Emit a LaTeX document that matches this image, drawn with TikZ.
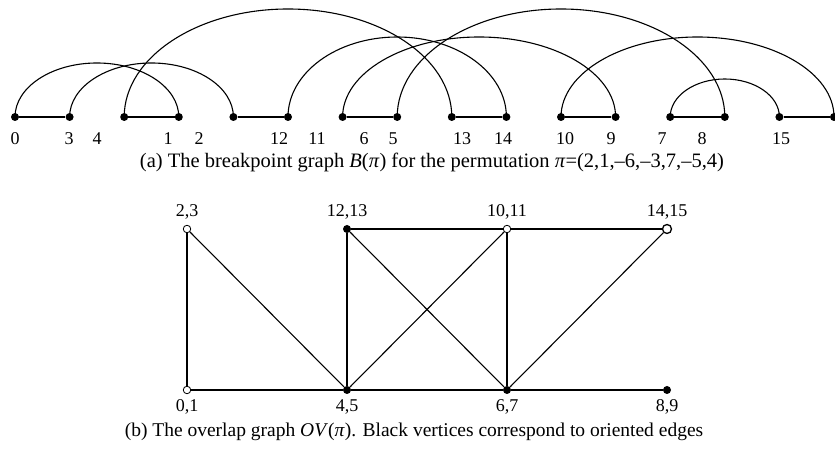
\documentclass[tikz,border=0pt]{standalone}
\usepackage{fontspec}
\setmainfont{Liberation Serif}
\usepackage{tikz}
\usetikzlibrary{calc}
% half-ellipse between two breakpoint vertices
\newcommand{\bparc}[3]{\draw[arcline] let \p1=(#1.center), \p2=(#2.center) in (\p1) arc[start angle=180, end angle=0, x radius={0.5*(\x2-\x1)}, y radius=#3pt];}

\begin{document}
\begin{tikzpicture}[
		x=1pt, y=1pt,
		dot/.style={circle, fill=black, inner sep=0pt, minimum size=8pt},
		hollow/.style={circle, draw, fill=white, inner sep=0pt, minimum size=7.5pt, line width=0.8pt},
		numlabel/.style={font=\fontsize{18}{20}\selectfont},
		pairlabel/.style={font=\fontsize{18}{20}\selectfont},
		caption/.style={font=\fontsize{20}{24}\selectfont},
		edge/.style={line width=1.1pt},
		arcline/.style={line width=1.1pt}
	]
	\useasboundingbox (0,0) rectangle (835,462);
	
	% Breakpoint graph vertices
	\node[dot] (v0) at (15,345) {};
	\node[dot] (v1) at (69.6,345) {};
	\node[dot] (v2) at (124.2,345) {};
	\node[dot] (v3) at (178.8,345) {};
	\node[dot] (v4) at (233.4,345) {};
	\node[dot] (v5) at (288,345) {};
	\node[dot] (v6) at (342.6,345) {};
	\node[dot] (v7) at (397.2,345) {};
	\node[dot] (v8) at (451.8,345) {};
	\node[dot] (v9) at (506.4,345) {};
	\node[dot] (v10) at (561,345) {};
	\node[dot] (v11) at (615.6,345) {};
	\node[dot] (v12) at (670.2,345) {};
	\node[dot] (v13) at (724.8,345) {};
	\node[dot] (v14) at (779.4,345) {};
	\node[dot] (v15) at (834,345) {};
	
	% Vertex labels
	\node[numlabel] (l0) at (15,323) {0};
	\node[numlabel] (l1) at (69,323) {3};
	\node[numlabel] (l2) at (97,323) {4};
	\node[numlabel] (l3) at (168,323) {1};
	\node[numlabel] (l4) at (199,323) {2};
	\node[numlabel] (l5) at (279,323) {12};
	\node[numlabel] (l6) at (317,323) {11};
	\node[numlabel] (l7) at (364,323) {6};
	\node[numlabel] (l8) at (393,323) {5};
	\node[numlabel] (l9) at (462,323) {13};
	\node[numlabel] (l10) at (503,323) {14};
	\node[numlabel] (l11) at (565,323) {10};
	\node[numlabel] (l12) at (611,323) {9};
	\node[numlabel] (l13) at (662,323) {7};
	\node[numlabel] (l14) at (702,323) {8};
	\node[numlabel] (l15) at (781,323) {15};
	
	% Black edges
	\draw[edge] (v0) -- (v1);
	\draw[edge] (v2) -- (v3);
	\draw[edge] (v4) -- (v5);
	\draw[edge] (v6) -- (v7);
	\draw[edge] (v8) -- (v9);
	\draw[edge] (v10) -- (v11);
	\draw[edge] (v12) -- (v13);
	\draw[edge] (v14) -- (v15);
	
	% Gray edges
	\bparc{v0}{v3}{54}
	\bparc{v1}{v4}{54}
	\bparc{v2}{v8}{108}
	\bparc{v5}{v9}{80}
	\bparc{v6}{v11}{80}
	\bparc{v7}{v13}{108}
	\bparc{v10}{v15}{80}
	\bparc{v12}{v14}{38}
	
	\node[caption, font=\fontsize{20.5}{24}\selectfont] (capa) at (432,299) {(a) The breakpoint graph \textit{B}(\textit{π}) for the permutation \textit{π}=(2,1,–6,–3,7,–5,4)};
	
	% Overlap graph vertices
	\node[hollow] (g23) at (187,233) {};
	\node[dot] (g1213) at (347,233) {};
	\node[hollow] (g1011) at (507,233) {};
	\node[hollow, minimum size=9pt, line width=1.3pt] (g1415) at (667,233) {};
	\node[hollow] (g01) at (187,72) {};
	\node[dot] (g45) at (347,72) {};
	\node[dot] (g67) at (507,72) {};
	\node[dot] (g89) at (667,72) {};
	
	% Pair labels
	\node[pairlabel] at ([yshift=17pt]g23.center) {2,3};
	\node[pairlabel] at ([yshift=17pt]g1213.center) {12,13};
	\node[pairlabel] at ([yshift=17pt]g1011.center) {10,11};
	\node[pairlabel] at ([yshift=17pt]g1415.center) {14,15};
	\node[pairlabel] at ([yshift=-17pt]g01.center) {0,1};
	\node[pairlabel] at ([yshift=-17pt]g45.center) {4,5};
	\node[pairlabel] at ([yshift=-17pt]g67.center) {6,7};
	\node[pairlabel] at ([yshift=-17pt]g89.center) {8,9};
	
	% Overlaps
	\draw[edge] (g23) -- (g01);
	\draw[edge] (g23) -- (g45);
	\draw[edge] (g1213) -- (g1011);
	\draw[edge] (g1213) -- (g45);
	\draw[edge] (g1213) -- (g67);
	\draw[edge] (g1011) -- (g45);
	\draw[edge] (g1011) -- (g67);
	\draw[edge] (g1011) -- (g1415);
	\draw[edge] (g1415) -- (g67);
	\draw[edge] (g01) -- (g45);
	\draw[edge] (g45) -- (g67);
	\draw[edge] (g67) -- (g89);
	
	\node[caption, font=\fontsize{19.5}{24}\selectfont] (capb) at (414,30) {(b) The overlap graph \textit{OV}(\textit{π}). Black vertices correspond to oriented edges};
\end{tikzpicture}
\end{document}
